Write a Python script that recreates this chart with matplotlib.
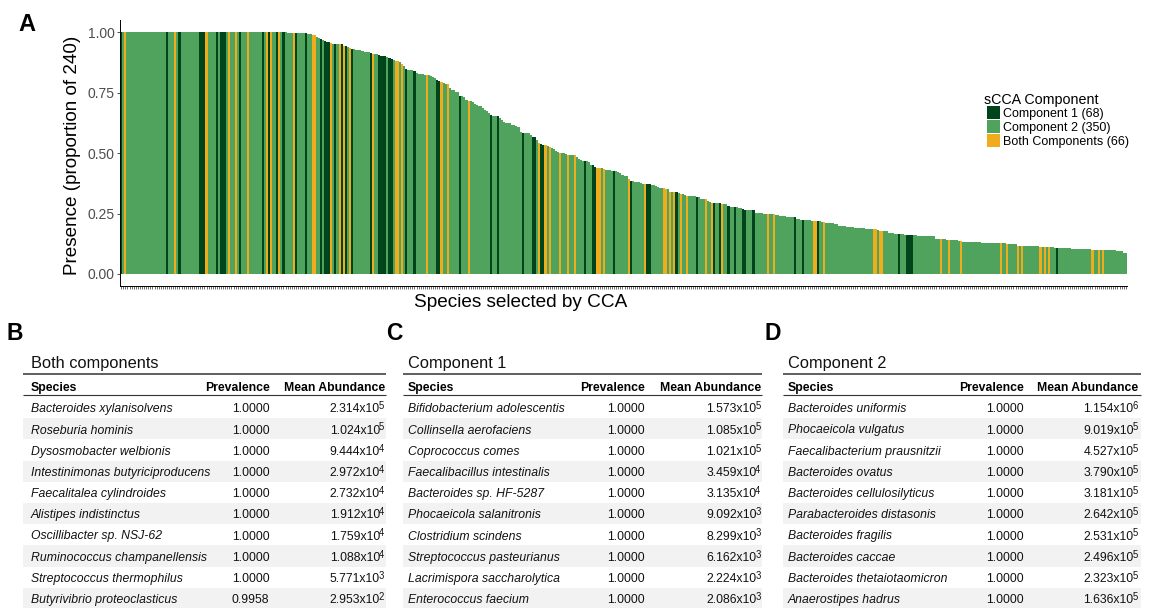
import numpy as np
import matplotlib
matplotlib.use("Agg")
import matplotlib.pyplot as plt
from matplotlib.patches import Rectangle

plt.rcParams['font.family'] = ['Liberation Sans', 'DejaVu Sans']

# ---------------- data: panel A ----------------
n_species = 484
# rank (0-based) of the first species at each presence level, and the level
level_first_rank = [
    0, 80, 90, 92, 93, 94, 95, 96, 97, 98, 99, 101, 102, 103, 107, 108, 109, 110, 111, 112,
    113, 116, 117, 120, 121, 122, 123, 124, 125, 128, 129, 130, 131, 132, 134, 135, 136, 137,
    138, 139, 141, 142, 143, 144, 146, 147, 149, 150, 151, 152, 153, 154, 155, 156, 157, 158,
    159, 161, 163, 165, 166, 167, 169, 170, 171, 172, 174, 175, 176, 177, 178, 179, 182, 183,
    184, 185, 188, 190, 191, 192, 193, 194, 197, 198, 200, 201, 202, 203, 205, 206, 207, 208,
    209, 210, 211, 212, 214, 215, 216, 219, 220, 221, 222, 223, 225, 226, 228, 229, 231, 232,
    233, 234, 236, 237, 239, 240, 241, 242, 244, 245, 247, 250, 251, 255, 257, 258, 259, 262,
    264, 266, 268, 269, 271, 272, 277, 279, 280, 282, 283, 284, 289, 292, 293, 294, 297, 299,
    300, 305, 309, 312, 315, 317, 320, 325, 327, 332, 334, 337, 339, 343, 345, 349, 353, 357,
    358, 364, 365, 369, 372, 377, 378, 383, 392, 397, 403, 405, 414, 416, 426, 431, 442, 449,
    457, 467, 475, 479, 482]
presence_levels = [
    1.000, 0.9958, 0.993, 0.990, 0.987, 0.982, 0.978, 0.974, 0.969, 0.964, 0.960, 0.956, 0.953,
    0.951, 0.945, 0.942, 0.938, 0.933, 0.932, 0.929, 0.927, 0.922, 0.918, 0.914, 0.911, 0.910,
    0.909, 0.904, 0.902, 0.898, 0.893, 0.891, 0.885, 0.881, 0.877, 0.868, 0.859, 0.848, 0.845,
    0.842, 0.838, 0.832, 0.828, 0.826, 0.824, 0.823, 0.820, 0.815, 0.809, 0.802, 0.798, 0.794,
    0.790, 0.787, 0.784, 0.770, 0.762, 0.754, 0.736, 0.732, 0.720, 0.716, 0.711, 0.705, 0.697,
    0.694, 0.686, 0.678, 0.673, 0.668, 0.657, 0.653, 0.646, 0.636, 0.629, 0.626, 0.617, 0.613,
    0.608, 0.588, 0.585, 0.582, 0.575, 0.566, 0.553, 0.541, 0.537, 0.532, 0.531, 0.524, 0.521,
    0.516, 0.509, 0.505, 0.501, 0.499, 0.495, 0.494, 0.491, 0.483, 0.476, 0.470, 0.468, 0.466,
    0.462, 0.449, 0.441, 0.440, 0.437, 0.434, 0.430, 0.429, 0.426, 0.424, 0.420, 0.416, 0.411,
    0.405, 0.391, 0.383, 0.379, 0.375, 0.371, 0.366, 0.362, 0.358, 0.354, 0.350, 0.341, 0.337,
    0.333, 0.329, 0.325, 0.321, 0.317, 0.312, 0.308, 0.300, 0.296, 0.292, 0.288, 0.283, 0.279,
    0.275, 0.271, 0.268, 0.263, 0.254, 0.250, 0.246, 0.242, 0.238, 0.234, 0.229, 0.225, 0.221,
    0.217, 0.213, 0.209, 0.205, 0.200, 0.196, 0.192, 0.188, 0.184, 0.180, 0.176, 0.171, 0.167,
    0.163, 0.159, 0.155, 0.146, 0.142, 0.138, 0.134, 0.130, 0.126, 0.122, 0.117, 0.113, 0.109,
    0.105, 0.101, 0.097, 0.093, 0.088]
# ranks (0-based) of species selected by component 1 only / by both components
component1_ranks = [
    0, 22, 28, 38, 39, 40, 46, 48, 49, 50, 57, 68, 71, 75, 78, 84, 89, 96, 98, 99, 100, 103,
    106, 108, 111, 120, 124, 125, 126, 127, 129, 130, 137, 141, 152, 153, 163, 178, 181, 193,
    198, 199, 202, 203, 223, 227, 228, 237, 245, 253, 254, 267, 277, 285, 288, 292, 295, 299,
    300, 304, 324, 328, 335, 374, 378, 379, 380, 450]
both_ranks = [
    2, 26, 41, 52, 55, 61, 70, 72, 76, 83, 92, 93, 101, 105, 107, 110, 121, 132, 133, 135, 147,
    154, 157, 167, 201, 204, 206, 211, 215, 218, 229, 230, 232, 244, 252, 261, 262, 264, 266,
    269, 272, 281, 284, 289, 311, 314, 333, 334, 338, 362, 363, 365, 366, 394, 398, 404, 423,
    426, 431, 433, 442, 444, 446, 467, 470, 472]
group_names = ['Component 1', 'Component 2', 'Both Components']
group_colors = ['#00441b', '#4fa35d', '#f0ac1c']

# ---------------- data: tables ----------------
table_letters = ['B', 'C', 'D']
table_titles = ['Both components', 'Component 1', 'Component 2']
table_headers = ['Species', 'Prevalence', 'Mean Abundance']
species_both = ['Bacteroides xylanisolvens', 'Roseburia hominis', 'Dysosmobacter welbionis',
                'Intestinimonas butyriciproducens', 'Faecalitalea cylindroides',
                'Alistipes indistinctus', 'Oscillibacter sp. NSJ-62',
                'Ruminococcus champanellensis', 'Streptococcus thermophilus',
                'Butyrivibrio proteoclasticus']
prev_both = [1.0, 1.0, 1.0, 1.0, 1.0, 1.0, 1.0, 1.0, 1.0, 0.9958]
abund_both = [2.314e5, 1.024e5, 9.444e4, 2.972e4, 2.732e4, 1.912e4, 1.759e4, 1.088e4,
              5.771e3, 2.953e2]
species_c1 = ['Bifidobacterium adolescentis', 'Collinsella aerofaciens', 'Coprococcus comes',
              'Faecalibacillus intestinalis', 'Bacteroides sp. HF-5287',
              'Phocaeicola salanitronis', 'Clostridium scindens', 'Streptococcus pasteurianus',
              'Lacrimispora saccharolytica', 'Enterococcus faecium']
prev_c1 = [1.0] * 10
abund_c1 = [1.573e5, 1.085e5, 1.021e5, 3.459e4, 3.135e4, 9.092e3, 8.299e3, 6.162e3,
            2.224e3, 2.086e3]
species_c2 = ['Bacteroides uniformis', 'Phocaeicola vulgatus', 'Faecalibacterium prausnitzii',
              'Bacteroides ovatus', 'Bacteroides cellulosilyticus', 'Parabacteroides distasonis',
              'Bacteroides fragilis', 'Bacteroides caccae', 'Bacteroides thetaiotaomicron',
              'Anaerostipes hadrus']
prev_c2 = [1.0] * 10
abund_c2 = [1.154e6, 9.019e5, 4.527e5, 3.790e5, 3.181e5, 2.642e5, 2.531e5, 2.496e5,
            2.323e5, 1.636e5]

# ---------------- build ----------------
counts = np.diff(level_first_rank + [n_species])
presence = np.repeat(presence_levels, counts)
group = np.ones(n_species, dtype=int)
group[component1_ranks] = 0
group[both_ranks] = 2
bar_colors = [group_colors[g] for g in group]
group_counts = [int((group == k).sum()) for k in range(3)]

W, H = 1151, 608
fig = plt.figure(figsize=(W / 100, H / 100), dpi=100)

# overlay axes in pixel coordinates for annotations / tables
axt = fig.add_axes([0, 0, 1, 1], zorder=0)
axt.set_xlim(0, W)
axt.set_ylim(H, 0)
axt.axis('off')

# --- panel A ---
left, right, top, bottom = 120, 1127, 20.2, 286
ax = fig.add_axes([left / W, 1 - bottom / H, (right - left) / W, (bottom - top) / H], zorder=1)
ranks = np.arange(1, n_species + 1)
ax.bar(ranks, presence, width=1.0, color=bar_colors, linewidth=0)
ax.set_xlim(0.4, n_species + 0.6)
ax.set_ylim(-0.05, 1.05)
ax.spines['top'].set_visible(False)
ax.spines['right'].set_visible(False)
for s in ['left', 'bottom']:
    ax.spines[s].set_linewidth(0.7)
    ax.spines[s].set_color('black')
ax.set_xticks(ranks)
ax.set_xticklabels([])
ax.tick_params(axis='x', length=2.4, width=0.6, color='#555555')
ax.set_yticks([0, 0.25, 0.5, 0.75, 1.0])
ax.set_yticklabels(['0.00', '0.25', '0.50', '0.75', '1.00'])
ax.tick_params(axis='y', length=2.4, width=0.6, color='#333333', labelsize=10,
               labelcolor='#4d4d4d', pad=1.5)
ax.patch.set_alpha(0)

axt.text(73, 155.5, 'Presence (proportion of 240)', rotation=90, ha='center', va='center',
         fontsize=13.6, color='black')
axt.text(520.5, 307.3, 'Species selected by CCA', ha='center', va='baseline', fontsize=13.7,
         color='black')
axt.text(18, 31, 'A', fontsize=17, fontweight='bold', va='baseline', ha='left')

# legend
axt.text(984, 103.8, 'sCCA Component', fontsize=10.3, va='baseline', ha='left')
for k in range(3):
    y0 = 106 + 14 * k
    axt.add_patch(Rectangle((987, y0), 13, 13, facecolor=group_colors[k], edgecolor='none'))
    axt.text(1003.5, y0 + 6.5, f'{group_names[k]} ({group_counts[k]})', fontsize=9,
             va='center_baseline', ha='left')

# --- tables ---
tables = [
    (species_both, prev_both, abund_both, 7, 23, 386, 31, 269.5, 384),
    (species_c1, prev_c1, abund_c1, 386, 403, 762, 408, 644.5, 760.5),
    (species_c2, prev_c2, abund_c2, 765, 783, 1141, 788, 1024, 1137.5),
]
row_h = 21.2
fs = 8.8
sup_fs = fs * 0.78
sup_w = 0.556 * sup_fs * 100 / 72 - 1.3
txt_col = '#111111'
for t, (sp, pv, ab, lx, rl, rr, sx, px_r, ax_r) in enumerate(tables):
    axt.text(lx, 340.3, table_letters[t], fontsize=16.5, fontweight='bold', va='baseline',
             ha='left')
    axt.text(sx, 368, table_titles[t], fontsize=11.8, va='baseline', ha='left', color=txt_col)
    axt.plot([rl, rr], [374.3, 374.3], color='#333333', lw=1.1, solid_capstyle='butt')
    axt.text(sx, 391, table_headers[0], fontsize=fs, fontweight='bold', va='baseline', ha='left')
    axt.text(px_r, 391, table_headers[1], fontsize=fs, fontweight='bold', va='baseline',
             ha='right')
    axt.text(ax_r + 1, 391, table_headers[2], fontsize=fs, fontweight='bold', va='baseline',
             ha='right')
    axt.plot([rl, rr], [395, 395], color='#333333', lw=0.8, solid_capstyle='butt')
    for k in range(len(sp)):
        y_top = 397 + row_h * k
        if k % 2 == 1:
            axt.add_patch(Rectangle((rl, y_top), rr - rl, row_h, facecolor='#f2f2f2',
                                    edgecolor='none', zorder=0))
        yb = 412.3 + row_h * k
        axt.text(sx, yb, sp[k], fontsize=fs, style='italic', va='baseline', ha='left',
                 color=txt_col)
        axt.text(px_r, yb, f'{pv[k]:.4f}', fontsize=fs, va='baseline', ha='right',
                 color=txt_col)
        e = int(np.floor(np.log10(ab[k])))
        m = ab[k] / 10 ** e
        axt.text(ax_r - sup_w, yb, f'{m:.3f}x10', fontsize=fs, va='baseline', ha='right',
                 color=txt_col)
        axt.text(ax_r, yb - 3.2, f'{e}', fontsize=sup_fs, va='baseline', ha='right',
                 color=txt_col)

fig.savefig('out.png', dpi=100)
